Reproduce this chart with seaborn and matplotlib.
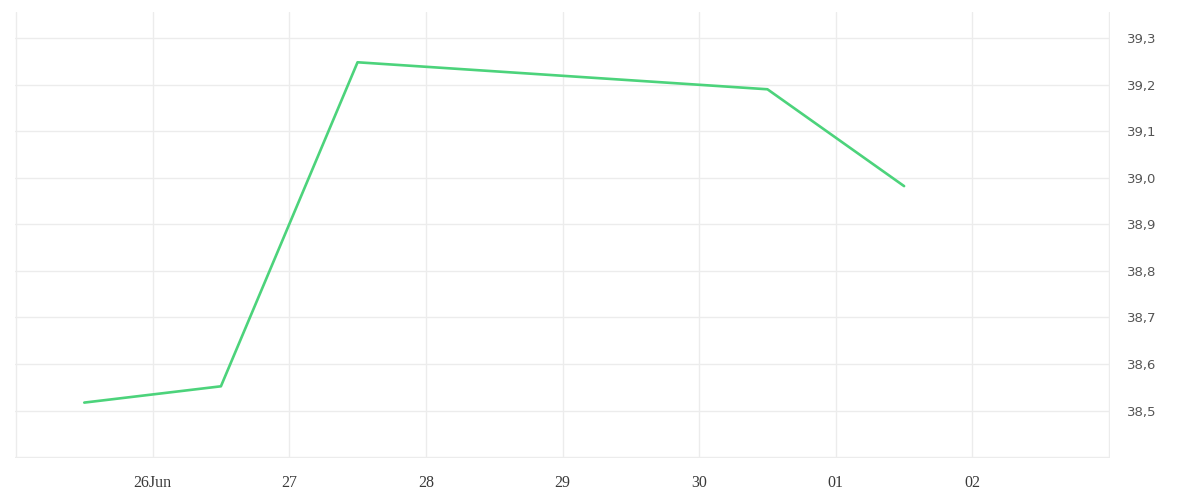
import matplotlib
matplotlib.use("Agg")
import matplotlib.pyplot as plt
import matplotlib.dates as mdates
import matplotlib.ticker as mticker
import numpy as np
import pandas as pd
import seaborn as sns

# ── data ──────────────────────────────────────────────────────────────────
times = ["2023-06-25 12:00", "2023-06-26 12:00", "2023-06-27 12:00",
         "2023-06-30 12:00", "2023-07-01 12:00"]
values = [38.517, 38.552, 39.248, 39.190, 38.982]

tick_days = ["2023-06-25", "2023-06-26", "2023-06-27", "2023-06-28", "2023-06-29",
             "2023-06-30", "2023-07-01", "2023-07-02", "2023-07-03"]
tick_labels = ["", "26Jun", "27", "28", "29", "30", "01", "02", ""]
y_ticks = [38.4, 38.5, 38.6, 38.7, 38.8, 38.9, 39.0, 39.1, 39.2, 39.3]

df = pd.DataFrame({"time": pd.to_datetime(times), "value": values})

sns.set_style("white")
GRID = "#ececec"

fig = plt.figure(figsize=(12, 5), dpi=100)
ax = fig.add_axes([0.0125, 0.084, 0.9125, 0.892])

sns.lineplot(data=df, x="time", y="value", ax=ax, color="#4CD37B", lw=1.9)

days = pd.to_datetime(tick_days)
ax.set_xlim(days[0] - pd.Timedelta(minutes=10), days[-1] + pd.Timedelta(minutes=10))
ax.set_ylim(38.398, 39.356)

ax.xaxis.set_major_locator(mticker.FixedLocator(mdates.date2num(days)))
ax.xaxis.set_major_formatter(mticker.FixedFormatter(tick_labels))
ax.yaxis.set_major_locator(mticker.FixedLocator(y_ticks))
ax.yaxis.set_major_formatter(mticker.FixedFormatter(
    ["" if v < 38.45 else f"{v:.1f}".replace(".", ",") for v in y_ticks]))

ax.yaxis.tick_right()
ax.grid(True, color=GRID, lw=1)
for s in ax.spines.values():
    s.set_visible(False)

ax.tick_params(axis="x", length=9, color=GRID, width=1, pad=3,
               labelsize=10, labelcolor="#3a3a3a")
ax.tick_params(axis="y", length=0, pad=12, labelsize=9.5, labelcolor="#555555")
for lab in ax.get_xticklabels():
    lab.set_family("Liberation Serif")
    lab.set_fontsize(11.5)
ax.set_xlabel("")
ax.set_ylabel("")

fig.savefig("out.png", dpi=100)
